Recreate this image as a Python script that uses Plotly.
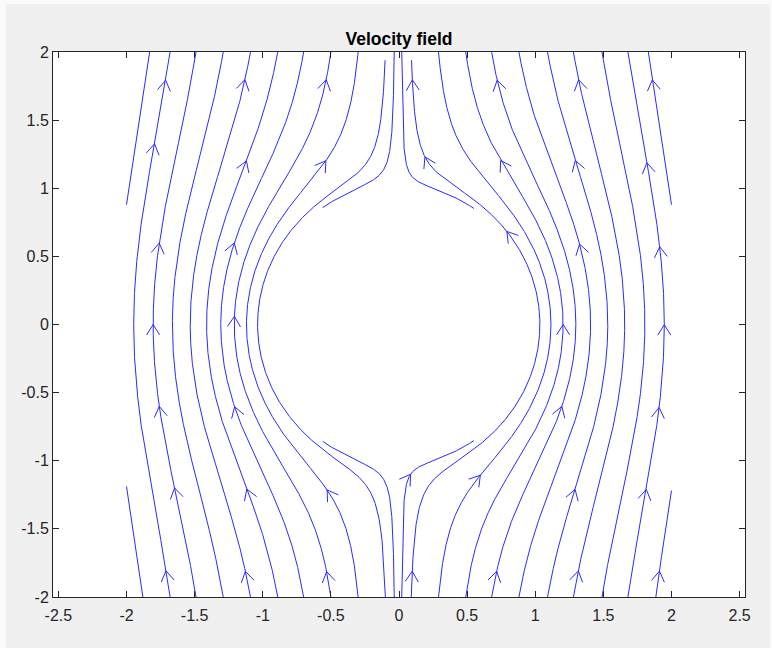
import numpy as np
import plotly.graph_objects as go

# ---- flow definition (uniform upward flow past a unit cylinder) ----
FLOW_SPEED = 1.0
CYL_RADIUS = 1.0

# ---- streamline seeds ----
# bottom edge seeds (traced downstream, i.e. upward)
bottom_seed_x = [-1.88, -1.68, -1.49, -1.29, -1.09, -0.89, -0.70, -0.50, -0.30, -0.10, -0.035,
                 0.02, 0.09, 0.29, 0.49, 0.68, 0.88, 1.09, 1.28, 1.49, 1.68, 1.885]
# where a bottom line stops early (None = runs to the edge of the box)
bottom_stop_xmin = [None] * 10 + [-0.56] + [None] * 11
bottom_stop_xmax = [None] * 11 + [0.55] + [None] * 10
bottom_stop_ymax = [None] * 9 + [1.94] + [None] * 2 + [1.94] + [None] * 9

# top edge seeds (traced upstream, i.e. downward)
top_seed_x = [-1.83, -0.035, 0.02, 1.83]
top_stop_xmin = [None, -0.56, None, None]
top_stop_xmax = [None, None, 0.55, None]

# ---- arrow positions ----
arrow_x = [-1.73, -1.81, -1.77, -1.81, -1.76, -1.65, -1.72,
           -1.13, -1.12, -1.21, -1.21, -1.20, -1.12, -1.12,
           -0.53, -0.535, -0.52, -0.52,
           0.10, 0.19, 0.086, 0.10,
           0.72, 0.74, 0.80, 0.59, 0.71,
           1.31, 1.28, 1.32, 1.20, 1.19, 1.29, 1.32,
           1.85, 1.83, 1.91, 1.95, 1.91, 1.82, 1.91]
arrow_y = [1.795, 1.33, 0.60, 0.0, -0.60, -1.20, -1.81,
           1.795, 1.20, 0.60, 0.06, -0.60, -1.21, -1.81,
           1.795, 1.20, -1.21, -1.81,
           1.795, 1.23, -1.10, -1.81,
           1.795, 1.20, 0.69, -1.10, -1.81,
           1.795, 1.20, 0.59, 0.0, -0.60, -1.21, -1.81,
           1.795, 1.19, 0.57, 0.0, -0.61, -1.21, -1.81]

x_ticks = [-2.5, -2, -1.5, -1, -0.5, 0, 0.5, 1, 1.5, 2, 2.5]
x_tick_text = ["-2.5", "-2", "-1.5", "-1", "-0.5", "0", "0.5", "1", "1.5", "2", "2.5"]
y_ticks = [-2, -1.5, -1, -0.5, 0, 0.5, 1, 1.5, 2]
y_tick_text = ["-2", "-1.5", "-1", "-0.5", "0", "0.5", "1", "1.5", "2"]

GRID_LIM = 2.0


def velocity(x, y):
    z = complex(x, y)
    w = -1j * FLOW_SPEED * (1 + CYL_RADIUS ** 2 / z ** 2)
    return w.real, -w.imag


def direction(p, sgn):
    u, v = velocity(p[0], p[1])
    n = np.hypot(u, v)
    return np.array([u / n, v / n]) * sgn


def trace(x0, y0, sgn, xmin=None, xmax=None, ymax=None, h=0.003):
    xmin = -GRID_LIM if xmin is None else xmin
    xmax = GRID_LIM if xmax is None else xmax
    ymax = GRID_LIM if ymax is None else ymax
    ymin = -GRID_LIM
    p = np.array([x0, y0], float)
    pts = [p.copy()]
    for _ in range(6000):
        k1 = direction(p, sgn)
        k2 = direction(p + 0.5 * h * k1, sgn)
        k3 = direction(p + 0.5 * h * k2, sgn)
        k4 = direction(p + h * k3, sgn)
        q = p + h / 6 * (k1 + 2 * k2 + 2 * k3 + k4)
        ts = []
        if q[0] < xmin:
            ts.append((xmin - p[0]) / (q[0] - p[0]))
        if q[0] > xmax:
            ts.append((xmax - p[0]) / (q[0] - p[0]))
        if q[1] < ymin and len(pts) > 1:
            ts.append((ymin - p[1]) / (q[1] - p[1]))
        if q[1] > ymax and len(pts) > 1:
            ts.append((ymax - p[1]) / (q[1] - p[1]))
        if ts:
            t = min(ts)
            pts.append(p + t * (q - p))
            break
        p = q
        pts.append(p.copy())
    return np.array(pts)


lines = []
for i, x0 in enumerate(bottom_seed_x):
    lines.append(trace(x0, -GRID_LIM, 1, bottom_stop_xmin[i], bottom_stop_xmax[i], bottom_stop_ymax[i]))
for i, x0 in enumerate(top_seed_x):
    lines.append(trace(x0, GRID_LIM, -1, top_stop_xmin[i], top_stop_xmax[i], None))

lx, ly = [], []
for L in lines:
    lx += list(L[:, 0]) + [None]
    ly += list(L[:, 1]) + [None]

# arrows: snap to nearest streamline point, orient along the flow
all_pts = np.vstack(lines)
WING = 0.09
ANG = np.deg2rad(32)
ax_, ay_ = [], []
for x, y in zip(arrow_x, arrow_y):
    d = np.hypot(all_pts[:, 0] - x, all_pts[:, 1] - y)
    p = all_pts[np.argmin(d)]
    t = direction(p, 1)
    for s in (ANG, -ANG):
        c, si = np.cos(s), np.sin(s)
        r = np.array([c * t[0] - si * t[1], si * t[0] + c * t[1]])
        w = p - WING * r
        ax_ += [p[0], w[0], None]
        ay_ += [p[1], w[1], None]

LINE_COLOR = "#2a2aff"
fig = go.Figure()
fig.add_trace(go.Scatter(x=lx, y=ly, mode="lines", line=dict(color=LINE_COLOR, width=1),
                         hoverinfo="skip", showlegend=False))
fig.add_trace(go.Scatter(x=ax_, y=ay_, mode="lines", line=dict(color=LINE_COLOR, width=1),
                         hoverinfo="skip", showlegend=False))

axis_common = dict(showline=True, linecolor="#262626", linewidth=1, mirror="ticks",
                   ticks="inside", ticklen=6, tickcolor="#262626", tickwidth=1,
                   showgrid=False, zeroline=False,
                   tickfont=dict(family="Liberation Sans, Arial, sans-serif", size=16, color="#262626"))

# figure occupies x 6..770, y 4..648 of the window (as in the reference)
FIG_W, FIG_H = 764, 644
fig.update_layout(
    width=FIG_W, height=FIG_H, autosize=False,
    paper_bgcolor="#f0f0f0", plot_bgcolor="white",
    margin=dict(l=46.5, r=25, t=47.7, b=51.3),
    title=dict(text="<b>Velocity field</b>", x=0.5, xanchor="center", xref="paper",
               y=1 - 34.5 / FIG_H, yanchor="middle", yref="container",
               font=dict(family="Liberation Sans, Arial, sans-serif", size=17.5, color="black")),
    xaxis=dict(range=[-2.5395, 2.5395], tickvals=x_ticks, ticktext=x_tick_text,
               ticklabelstandoff=4, **axis_common),
    yaxis=dict(range=[-2, 2], tickvals=y_ticks, ticktext=y_tick_text, **axis_common),
)

fig.write_html("out.html",
               post_script="document.body.style.margin='4px 0 0 6px';"
                           "document.body.style.background='#fafafa';")
